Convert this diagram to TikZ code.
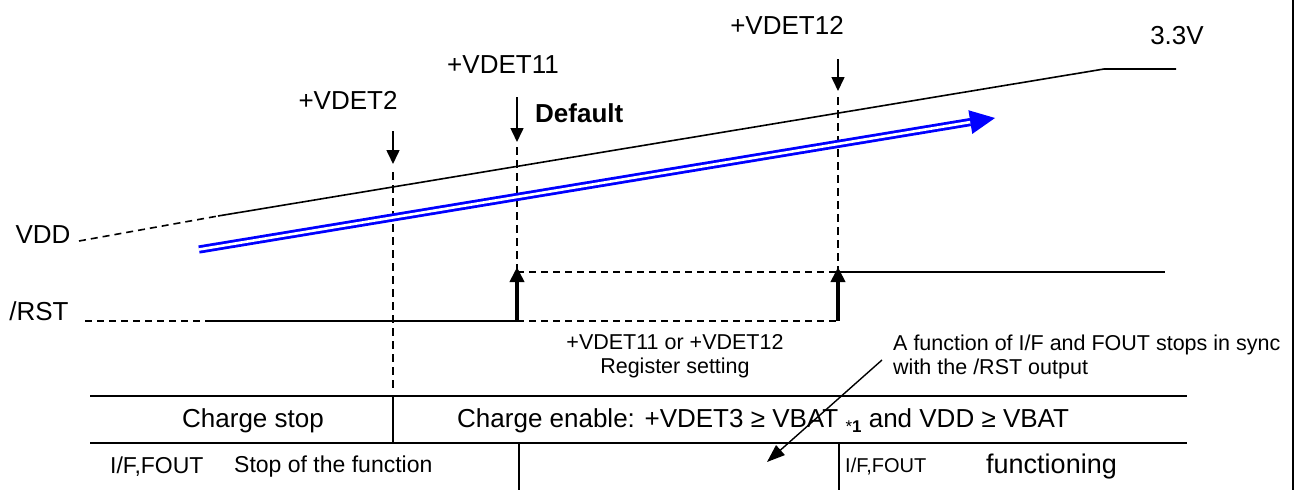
\documentclass[tikz,border=0pt]{standalone}
\usepackage{fontspec}
\setmainfont{Liberation Sans}
\usetikzlibrary{arrows.meta,calc}
\begin{document}
\begin{tikzpicture}[x=1pt,y=-1pt,
  big/.style={font=\fontsize{26}{30}\selectfont, inner sep=0pt},
  small/.style={font=\fontsize{21.5}{25}\selectfont, inner sep=0pt},
  sig/.style={line width=1.6pt},
  dsig/.style={line width=1.6pt, dash pattern=on 7pt off 5pt},
  vdash/.style={line width=1.6pt, dash pattern=on 8pt off 5pt},
  marker/.style={line width=1.6pt, -{Triangle[length=14pt,width=13pt]}},
  rise/.style={line width=4pt, -{Triangle[length=15pt,width=14pt]}},
  note/.style={line width=1.4pt, -{Triangle[length=18pt,width=13pt]}},
  gridline/.style={line width=2pt},
  bluerail/.style={draw=blue, line width=2.8pt, double=white, double distance=2.6pt}]
\useasboundingbox (0,0) rectangle (1299,490);
% ---- VDD curve
\coordinate (vddL) at (79,241);
\coordinate (vddS) at (218,216);
\coordinate (vddK) at (1104,69);
\coordinate (vddE) at (1176,69);
\draw[dsig] (vddL) -- (vddS);
\draw[sig] (vddS) -- (vddK) -- (vddE);
% ---- labels
\node[big] (lvdd) at (43,235) {VDD};
\node[big] (lrst) at (39,311) {/RST};
\node[big] (l33) at (1177,36) {3.3V};
\node[big] (lv2) at (348,100) {+VDET2};
\node[big] (lv11) at (503,65) {+VDET11};
\node[big] (lv12) at (787,25) {+VDET12};
\node[big, anchor=west, font=\fontsize{26}{30}\selectfont\bfseries] (ldef) at (535,113) {Default};
% ---- markers
\coordinate (m2a) at (393,131); \coordinate (m2b) at (393,164);
\coordinate (m11a) at (517,97); \coordinate (m11b) at (517,142);
\coordinate (m12a) at (838,59); \coordinate (m12b) at (838,91);
\draw[marker] (m2a) -- (m2b);
\draw[marker] (m11a) -- (m11b);
\draw[marker] (m12a) -- (m12b);
\coordinate (d2a) at (393,172); \coordinate (d2b) at (393,392);
\coordinate (d11a) at (517,147); \coordinate (d11b) at (517,272);
\coordinate (d12a) at (838,97); \coordinate (d12b) at (838,272);
\draw[vdash] (d2a) -- (d2b);
\draw[vdash] (d11a) -- (d11b);
\draw[vdash] (d12a) -- (d12b);
% ---- blue arrow
\coordinate (ba) at (199,249.5);
\coordinate (bt) at (995,118);
\coordinate (bb) at ($(bt)!25pt!(ba)$);
\coordinate (bh1) at ($(bb)!12pt!90:(bt)$);
\coordinate (bh2) at ($(bb)!12pt!-90:(bt)$);
\draw[bluerail] (ba) -- (bb);
\fill[blue] (bt) -- (bh1) -- (bh2) -- cycle;
% ---- /RST
\coordinate (r0) at (85,321);
\coordinate (r1) at (212,321);
\coordinate (r2) at (517,321);
\coordinate (r3) at (838,321);
\coordinate (h1) at (517,272);
\coordinate (h2) at (838,272);
\coordinate (h3) at (1165,272);
\draw[dsig] (r0) -- (r1);
\draw[sig] (r1) -- (r2);
\draw[dsig] (r2) -- (r3);
\draw[dsig] (h1) -- (h2);
\draw[sig] (h2) -- (h3);
\coordinate (u1) at (517,267);
\coordinate (u2) at (838,267);
\draw[rise] (r2) -- (u1);
\draw[rise] (r3) -- (u2);
% ---- notes
\node[small, align=center] (lreg) at (675,356) {+VDET11 or +VDET12\\[-1pt]Register setting};
\node[small, align=left, anchor=west] (lsync) at (893,357) {A function of I/F and FOUT stops in sync\\[-1pt]with the /RST output};
\coordinate (na) at (882,360);
\coordinate (nb) at (767,462);
\draw[note] (na) -- (nb);
% ---- table
\coordinate (t1a) at (90,396); \coordinate (t1b) at (1187,396);
\coordinate (t2a) at (90,443); \coordinate (t2b) at (1187,443);
\draw[gridline] (t1a) -- (t1b);
\draw[gridline] (t2a) -- (t2b);
\coordinate (v1a) at (393,396); \coordinate (v1b) at (393,443);
\coordinate (v2a) at (519,443); \coordinate (v2b) at (519,490);
\coordinate (v3a) at (839,443); \coordinate (v3b) at (839,490);
\draw[gridline] (v1a) -- (v1b);
\draw[gridline] (v2a) -- (v2b);
\draw[gridline] (v3a) -- (v3b);
\coordinate (bd1) at (1293,0); \coordinate (bd2) at (1293,490);
\draw[line width=2pt] (bd1) -- (bd2);
\node[big] (lcs) at (253,421) {Charge stop};
\node[big, anchor=west] (lce) at (457,421) {Charge enable: +VDET3 ≥ VBAT {\raisebox{-5pt}{\fontsize{17}{17}\selectfont*\textbf{1}}} and VDD ≥ VBAT};
\node[font=\fontsize{23}{26}\selectfont, inner sep=0pt, anchor=west] (lif1) at (110,467) {I/F,FOUT};
\node[font=\fontsize{23}{26}\selectfont, inner sep=0pt, anchor=west] (lstop) at (234,467) {Stop of the function};
\node[font=\fontsize{20}{24}\selectfont, inner sep=0pt, anchor=west] (lif2) at (845,467) {I/F,FOUT};
\node[font=\fontsize{27}{30}\selectfont, inner sep=0pt, anchor=west] (lfun) at (986,467) {functioning};
\end{tikzpicture}
\end{document}
